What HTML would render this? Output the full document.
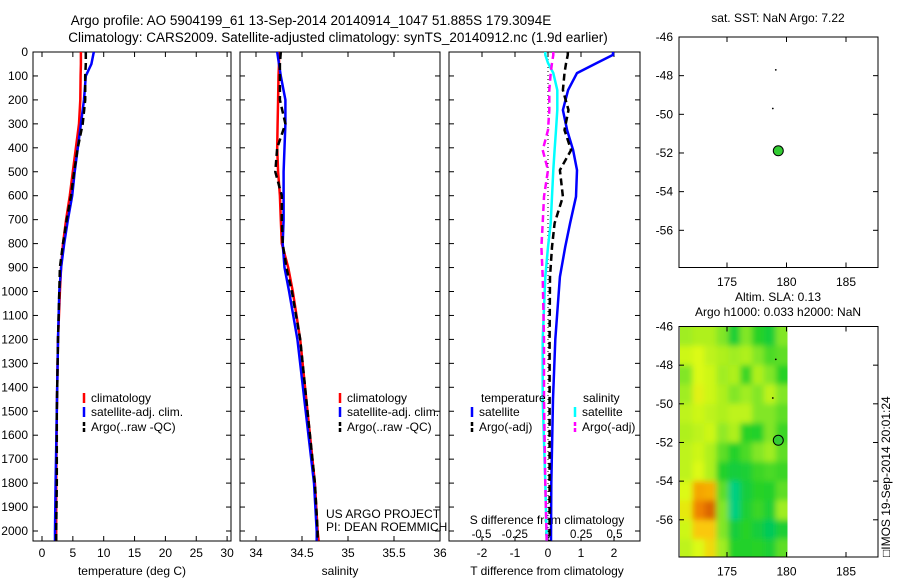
<!DOCTYPE html>
<html><head><meta charset="utf-8">
<style>
html,body{margin:0;padding:0;background:#fff;}
svg{display:block;font-family:"Liberation Sans",sans-serif;}
text{font-size:12px;fill:#000;}
</style></head>
<body>
<svg id="fig" width="900" height="580" viewBox="0 0 900 580">
<defs>
<filter id="blur" x="-5%" y="-5%" width="110%" height="110%"><feGaussianBlur stdDeviation="3"/></filter>
<clipPath id="slaclip"><rect x="680" y="327" width="107.5" height="230"/></clipPath>
</defs>
<text x="311" y="25" text-anchor="middle" style="font-size:13.5px">Argo profile: AO 5904199_61 13-Sep-2014 20140914_1047 51.885S 179.3094E</text>
<text x="338" y="42" text-anchor="middle" style="font-size:13.5px">Climatology: CARS2009. Satellite-adjusted climatology: synTS_20140912.nc (1.9d earlier)</text>
<text x="778" y="22" text-anchor="middle">sat. SST: NaN Argo: 7.22</text>
<text x="778" y="301" text-anchor="middle">Altim. SLA: 0.13</text>
<text x="778" y="316" text-anchor="middle">Argo h1000: 0.033 h2000: NaN</text>
<text transform="translate(890,557) rotate(-90)">&#9633;IMOS 19-Sep-2014 20:01:24</text>
<g id="sla" clip-path="url(#slaclip)"><g id="slablur" filter="url(#blur)"></g></g>
<g id="g"></g>
</svg>
<script>
// ---- profile data ----
const depths = [0,50,100,200,300,400,500,600,700,800,900,1000,1200,1500,1800,2000,2040];
const tempClim = [6.3,6.3,6.25,6.2,6.0,5.5,5.0,4.5,3.9,3.4,3.1,2.9,2.6,2.4,2.3,2.3,2.3];
const tempSat  = [8.4,8.0,7.1,6.8,6.3,5.8,5.3,4.9,4.2,3.6,3.1,2.8,2.6,2.4,2.2,2.1,2.1];
const tempArgo = [7.1,7.1,7.0,7.0,6.6,5.8,5.2,4.7,4.0,3.4,2.9,2.8,2.6,2.4,2.4,2.3,2.3];
const salClim = [34.25,34.25,34.245,34.24,34.235,34.23,34.24,34.26,34.27,34.28,34.35,34.40,34.48,34.56,34.64,34.67,34.68];
const salSat  = [34.23,34.25,34.27,34.32,34.32,34.31,34.30,34.30,34.30,34.29,34.31,34.36,34.45,34.54,34.63,34.66,34.66];
const salArgo = [34.27,34.26,34.26,34.26,34.32,34.23,34.21,34.28,34.28,34.29,34.33,34.39,34.48,34.56,34.64,34.67,34.67];
const diffDepths = [0,12,46,88,159,242,326,409,493,604,715,814,939,1200,1450,1800,2040];
const tDiffSat  = [1.97,1.97,1.48,0.88,0.61,0.45,0.58,0.76,0.88,0.85,0.67,0.52,0.36,0.22,0.15,0.1,0.09];
const tDiffArgo = [0.6,0.6,0.55,0.5,0.45,0.62,0.5,0.7,0.36,0.45,0.2,0.12,0.06,0.05,0.05,0.05,0.05];
const sDiffSat  = [-0.02,-0.02,0.0,0.04,0.07,0.07,0.06,0.05,0.04,0.03,0.02,0.0,-0.02,-0.04,-0.04,-0.02,-0.01];
const sDiffArgo = [0.04,0.04,0.03,0.02,0.01,0.01,0.0,-0.04,0.0,-0.03,-0.04,-0.05,-0.04,-0.03,-0.03,-0.02,-0.01];
const depthTicks = [0,100,200,300,400,500,600,700,800,900,1000,1100,1200,1300,1400,1500,1600,1700,1800,1900,2000];
const tempTicks = [0,5,10,15,20,25,30];
const salTicks = [34,34.5,35,35.5,36];
const tdTicks = [-2,-1,0,1,2];
const sdTicks = [-0.5,-0.25,0,0.25,0.5];
// ---- map data ----
const lonTicks = [175,180,185];
const latTicks = [-46,-48,-50,-52,-54,-56];
const argoLon = 179.31, argoLat = -51.885;
const trackLon = [179.1,178.85];
const trackLat = [-47.7,-49.7];
const slaLon0 = 171.1, slaLat0 = -46;
const sla = [
[0.02,0.03,0.03,0.0,-0.08,0.0,-0.05,-0.09,0.0],
[0.05,0.06,0.04,0.03,0.02,0.03,0.0,-0.03,-0.02],
[0.0,0.06,0.05,0.02,0.03,-0.04,0.03,0.0,-0.05],
[0.02,0.07,0.05,0.03,0.0,0.02,0.0,0.04,0.0],
[0.04,0.05,0.04,0.03,0.04,0.04,0.0,0.0,-0.02],
[0.03,0.04,0.05,0.01,0.03,-0.05,-0.06,0.0,-0.04],
[0.04,0.05,0.03,-0.02,-0.06,-0.03,0.0,0.02,-0.02],
[0.04,0.06,0.03,-0.06,-0.1,-0.08,-0.04,-0.03,-0.04],
[0.06,0.16,0.15,-0.02,-0.2,-0.1,-0.05,-0.06,-0.02],
[0.08,0.2,0.24,0.0,-0.2,-0.08,-0.04,-0.08,0.02],
[0.05,0.12,0.12,0.0,-0.1,-0.05,-0.1,-0.16,-0.08],
[0.04,0.06,0.1,0.02,-0.06,-0.06,-0.05,-0.08,-0.02]];

const NS="http://www.w3.org/2000/svg";
const G=document.getElementById('g');
const SB=document.getElementById('slablur');
function mk(tag,attrs,parent){const e=document.createElementNS(NS,tag);for(const k in attrs)e.setAttribute(k,attrs[k]);(parent||G).appendChild(e);return e;}
function txt(x,y,s,anchor,parent){const t=mk('text',{x:x,y:y,'text-anchor':anchor||'middle'},parent);t.textContent=s;return t;}

const Y=d=>52+d*0.2395;
const panels=[{x0:33,x1:231},{x0:240,x1:440},{x0:449,x1:640}];
const tX=v=>42+v*6.17;
const sX=v=>256+(v-34)*92;
const tdX=v=>548+v*33;
const sdX=v=>548+v*133;

function line(xs,ys,xf,yf,color,dash,name){
  const p=xs.map((v,i)=>xf(v).toFixed(1)+','+yf(ys[i]).toFixed(1)).join(' ');
  const e=mk('polyline',{points:p,fill:'none',stroke:color,'stroke-width':2.5});
  if(dash)e.setAttribute('stroke-dasharray',dash);
  
  
}
panels.forEach((p,i)=>{
  const r=mk('rect',{x:p.x0,y:52,width:p.x1-p.x0,height:489,fill:'none',stroke:'#000','stroke-width':1});
  
  
  depthTicks.forEach(d=>{
    mk('line',{x1:p.x0,x2:p.x0+5,y1:Y(d),y2:Y(d),stroke:'#000'});
    mk('line',{x1:p.x1,x2:p.x1-5,y1:Y(d),y2:Y(d),stroke:'#000'});
    if(i===0){const t=txt(28,Y(d)+4,String(d),'end');
      
      }
  });
});
function xticks(ticks,f,labels,ly){
  ticks.forEach(v=>{const x=f(v);
    mk('line',{x1:x,x2:x,y1:541,y2:536,stroke:'#000'});
    mk('line',{x1:x,x2:x,y1:52,y2:57,stroke:'#000'});
    if(labels){const t=txt(x,ly,String(v));
      
      }
  });
}
xticks(tempTicks,tX,true,557);
xticks(salTicks,sX,true,557);
xticks(tdTicks,tdX,true,557);
sdTicks.forEach(v=>{const t=txt(sdX(v),538,String(v));
  t.setAttribute('style','font-size:11.5px');
  
  });
[['temperature (deg C)',132],['salinity',340],['T difference from climatology',547]].forEach(a=>{
  const t=txt(a[1],575,a[0]);
  
  });
{const t=txt(547,524,'S difference from climatology');
 
 }

line(tempClim,depths,tX,Y,'#f00',null,'temp-climatology-line');
line(tempSat,depths,tX,Y,'#00f',null,'temp-satellite-line');
line(tempArgo,depths,tX,Y,'#000','7,4','temp-argo-line');
line(salClim,depths,sX,Y,'#f00',null,'sal-climatology-line');
line(salSat,depths,sX,Y,'#00f',null,'sal-satellite-line');
line(salArgo,depths,sX,Y,'#000','7,4','sal-argo-line');
{const z=mk('line',{x1:548,x2:548,y1:55,y2:540,stroke:'#000','stroke-dasharray':'1,3'});
 
 }
line(tDiffSat,diffDepths,tdX,Y,'#00f',null,'tdiff-satellite-line');
line(tDiffArgo,diffDepths,tdX,Y,'#000','7,4','tdiff-argo-line');
line(sDiffSat,diffDepths,sdX,Y,'#0ff',null,'sdiff-satellite-line');
line(sDiffArgo,diffDepths,sdX,Y,'#f0f','7,4','sdiff-argo-line');

function legend(x,y,color,dash,label,name){
  const l=mk('line',{x1:x,x2:x,y1:y-9,y2:y+1,stroke:color,'stroke-width':2.5});
  if(dash)l.setAttribute('stroke-dasharray','4,2');
  const t=txt(x+7,y,label,'start');
  
  
  
  
}
legend(84,402,'#f00',0,'climatology','legend-climatology');
legend(84,416,'#00f',0,'satellite-adj. clim.','legend-satellite');
legend(84,431,'#000',1,'Argo(..raw -QC)','legend-argo');
legend(340,402,'#f00',0,'climatology','legend2-climatology');
legend(340,416,'#00f',0,'satellite-adj. clim.','legend2-satellite');
legend(340,431,'#000',1,'Argo(..raw -QC)','legend2-argo');
{const t=txt(481,402,'temperature','start');}
{const t=txt(583,402,'salinity','start');}
legend(472,416,'#00f',0,'satellite','legend-t-satellite');
legend(472,431,'#000',1,'Argo(-adj)','legend-t-argo');
legend(575,416,'#0ff',0,'satellite','legend-s-satellite');
legend(575,431,'#f0f',1,'Argo(-adj)','legend-s-argo');
{const t=txt(326,518,'US ARGO PROJECT','start');}
{const t=txt(326,531,'PI: DEAN ROEMMICH','start');}

// ---- maps ----
function slaColor(v){
  const stops=[[-0.3,[0,220,230]],[-0.15,[0,200,80]],[-0.05,[40,210,40]],[0.0,[130,230,40]],[0.06,[220,250,20]],[0.12,[250,200,10]],[0.2,[240,130,0]],[0.3,[190,60,0]]];
  if(v<=stops[0][0])return 'rgb('+stops[0][1]+')';
  for(let i=1;i<stops.length;i++){if(v<=stops[i][0]){const a=stops[i-1],b=stops[i],t=(v-a[0])/(b[0]-a[0]);
    return 'rgb('+a[1].map((c,k)=>Math.round(c+(b[1][k]-c)*t)).join(',')+')';}}
  return 'rgb('+stops[stops.length-1][1]+')';
}
function map(y0,name,withSla){
  const lx=v=>727+(v-175)*11.9;
  const ly=v=>y0+(-46-v)*19.33;
  if(withSla){
    sla.forEach((row,r)=>row.forEach((v,c)=>{
      let x=lx(slaLon0+c),y=ly(slaLat0-r),w=12.3,h=19.8;
      if(c===0){x-=8;w+=8;} if(c===row.length-1){w+=8;}
      if(r===0){y-=8;h+=8;} if(r===sla.length-1){h+=12;}
      const cell=mk('rect',{x:x.toFixed(1),y:y.toFixed(1),width:w,height:h,fill:slaColor(v)},SB);
      
      
    }));
  }
  const fr=mk('rect',{x:679,y:y0,width:199,height:230.5,fill:'none',stroke:'#000'});
  
  
  lonTicks.forEach(v=>{const x=lx(v);
    mk('line',{x1:x,x2:x,y1:y0,y2:y0+5,stroke:'#000'});
    mk('line',{x1:x,x2:x,y1:y0+230.5,y2:y0+225.5,stroke:'#000'});
    const t=txt(x,y0+249,String(v));});
  latTicks.forEach(v=>{const y=ly(v);
    mk('line',{x1:679,x2:684,y1:y,y2:y,stroke:'#000'});
    mk('line',{x1:878,x2:873,y1:y,y2:y,stroke:'#000'});
    const t=txt(673,y+4,String(v),'end');});
  trackLon.forEach((v,i)=>{const d=mk('circle',{cx:lx(v),cy:ly(trackLat[i]),r:0.9,fill:'#000'});
    });
  const c=mk('circle',{cx:lx(argoLon),cy:ly(argoLat),r:5,fill:'#3c3',stroke:'#000','stroke-width':1});
  
  
}
map(37,'sst-map',false);
map(326.5,'sla-map',true);
</script>
</body></html>
